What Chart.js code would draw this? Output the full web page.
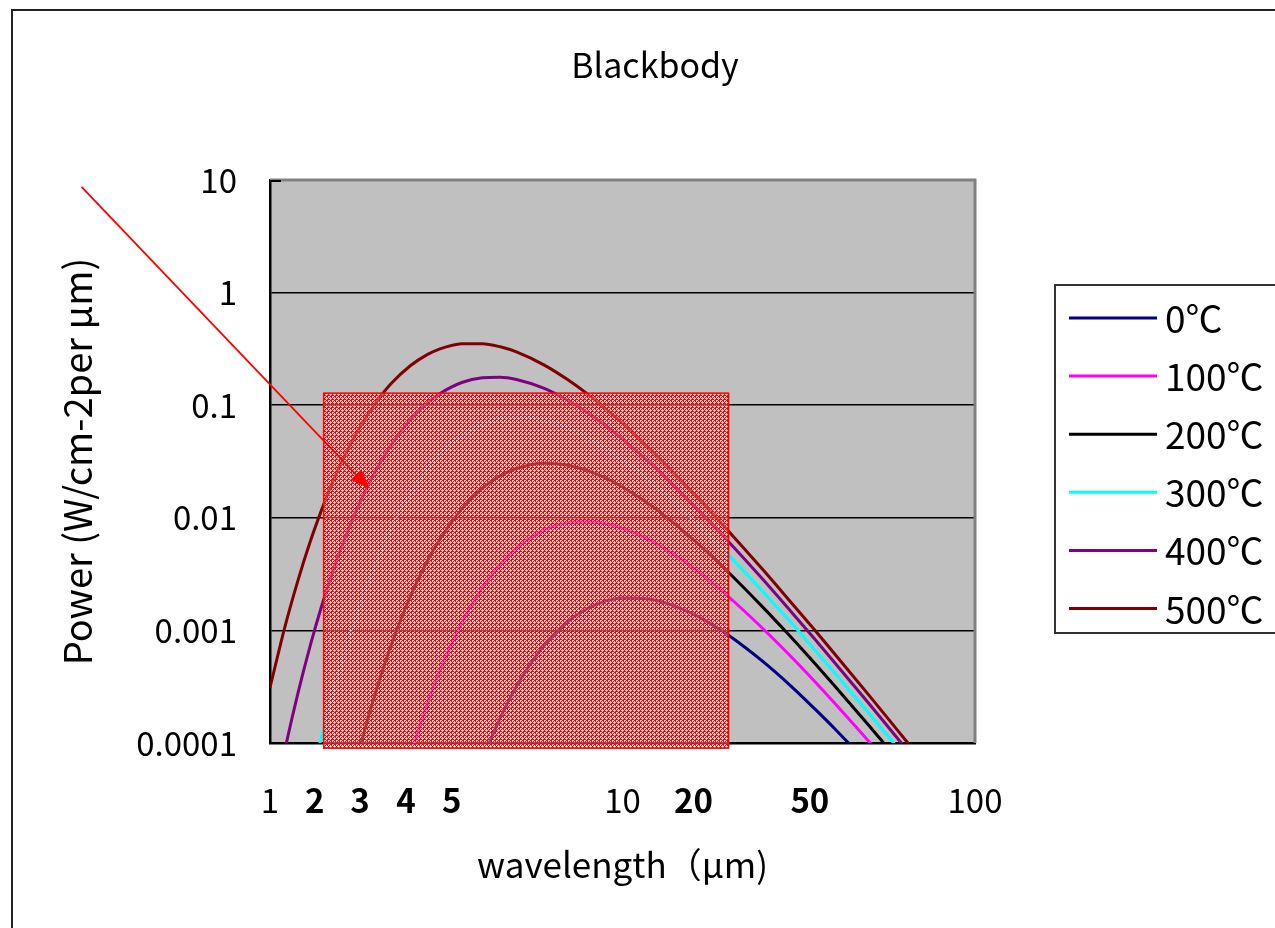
<!DOCTYPE html>
<html lang="ja">
<head>
<meta charset="UTF-8" />
<title>Blackbody</title>
<script src="https://cdn.jsdelivr.net/npm/chart.js"></script>
<style>
  html, body { margin: 0; padding: 0; background: #fff; }
  #wrap { width: 1275px; height: 928px; }
</style>
</head>
<body>
<div id="wrap"><canvas id="bbChart" width="1275" height="928"></canvas></div>
<script>
// wavelength (um) and power (W/cm2 per um)
const wavelengths = [1, 1.1, 1.2, 1.3, 1.4, 1.5, 1.6, 1.8, 2, 2.2, 2.5, 2.8, 3, 3.5, 4, 4.5, 5, 6, 7, 8, 9, 10, 12, 14, 16, 18, 20, 25, 30, 35, 40, 50, 60, 70, 80];

const power0 = [null, null, null, null, null, null, null, null, null, null, null, null, null,
  2.07e-5, 6.98e-5, 1.67e-4, 3.18e-4, 7.41e-4, 1.20e-3, 1.58e-3, 1.83e-3, 1.94e-3, 1.89e-3, 1.65e-3,
  1.38e-3, 1.12e-3, 9.05e-4, 5.30e-4, 3.22e-4, 2.03e-4, 1.34e-4, 6.41e-5, 3.42e-5, 1.98e-5, 1.23e-5];
const power100 = [null, null, null, null, null, null, null, null, null,
  1.78e-5, 7.68e-5, 2.27e-4, 4.03e-4, 1.17e-3, 2.38e-3, 3.85e-3, 5.36e-3, 7.80e-3, 9.06e-3, 9.29e-3,
  8.86e-3, 8.09e-3, 6.30e-3, 4.73e-3, 3.52e-3, 2.63e-3, 1.99e-3, 1.04e-3, 5.89e-4, 3.55e-4, 2.25e-4,
  1.03e-4, 5.34e-5, 3.03e-5, 1.84e-5];
const power200 = [null, null, null, null, null, null,
  1.99e-5, 9.12e-5, 2.92e-4, 7.21e-4, 2.00e-3, 4.18e-3, 6.10e-3, 0.0120, 0.0183, 0.0236, 0.0274,
  0.0305, 0.0293, 0.0261, 0.0224, 0.0188, 0.0130, 8.95e-3, 6.27e-3, 4.48e-3, 3.27e-3, 1.61e-3,
  8.77e-4, 5.15e-4, 3.21e-4, 1.43e-4, 7.29e-5, 4.09e-5, 2.47e-5];
const power300 = [null, null,
  1.24e-5, 4.14e-5, 1.14e-4, 2.66e-4, 5.48e-4, 1.74e-3, 4.14e-3, 8.04e-3, 0.0167, 0.0278, 0.0358,
  0.0547, 0.0689, 0.0769, 0.0795, 0.0745, 0.0634, 0.0518, 0.0415, 0.0331, 0.0212, 0.0139, 9.39e-3,
  6.53e-3, 4.66e-3, 2.22e-3, 1.18e-3, 6.79e-4, 4.19e-4, 1.84e-4, 9.26e-5, 5.16e-5, 3.10e-5];
const power400 = [1.95e-5, 8.46e-5, 2.76e-4, 7.29e-4, 1.63e-3, 3.19e-3, 5.63e-3, 0.0138, 0.0267,
  0.0438, 0.0742, 0.105, 0.124, 0.159, 0.175, 0.177, 0.169, 0.141, 0.110, 0.0848, 0.0650, 0.0500,
  0.0305, 0.0193, 0.0127, 8.69e-3, 6.12e-3, 2.84e-3, 1.48e-3, 8.46e-4, 5.17e-4, 2.24e-4, 1.12e-4,
  6.24e-5, 3.73e-5];
const power500 = [3.10e-4, 1.05e-3, 2.77e-3, 6.12e-3, 0.0117, 0.0202, 0.0317, 0.0641, 0.106, 0.154,
  0.224, 0.283, 0.312, 0.351, 0.352, 0.330, 0.297, 0.227, 0.168, 0.124, 0.0918, 0.0689, 0.0405,
  0.0250, 0.0162, 0.0109, 7.61e-3, 3.47e-3, 1.79e-3, 1.02e-3, 6.17e-4, 2.66e-4, 1.32e-4, 7.31e-5,
  4.36e-5];

const seriesLabels = ['0℃', '100℃', '200℃', '300℃', '400℃', '500℃'];
const seriesValues = [power0, power100, power200, power300, power400, power500];
const seriesColors = ['#000080', '#ff00ff', '#000000', '#00ffff', '#800080', '#800000'];

const yTicks = [0.0001, 0.001, 0.01, 0.1, 1, 10];
const yTickLabels = ['0.0001', '0.001', '0.01', '0.1', '1', '10'];
const xTicks = [1, 10, 100];
const xTickLabels = ['1', '10', '100'];
// bold labels pasted on top of the axis in the original
const extraXLabels = ['2', '3', '4', '5', '20', '50'];
const extraXLabelAt = [1.34, 1.80, 2.43, 3.28, 15.9, 34.0];

// red hatched box and arrow, in axis units
const boxX = [1.42, 20];
const boxY = [9.0e-5, 0.128];
const arrowFrom = [0.292, 8.67];
const arrowTo = [1.92, 0.0180];

const chartTitle = 'Blackbody';
const FONT = "'Noto Sans CJK JP', 'Noto Sans', sans-serif";
Chart.defaults.font.family = FONT;
Chart.defaults.color = '#000';

function makeHatch(ctx) {
  const c = document.createElement('canvas');
  c.width = 4; c.height = 4;
  const g = c.getContext('2d');
  g.fillStyle = '#ff0000';
  g.fillRect(0, 0, 4, 4);
  g.fillStyle = 'rgba(255,255,255,0.4)';
  [[2, 1], [1, 2], [2, 2], [3, 2], [2, 3], [0, 0], [1, 0], [0, 1]].forEach(([x, y]) => {
    g.clearRect(x, y, 1, 1);
    g.fillRect(x, y, 1, 1);
  });
  return ctx.createPattern(c, 'repeat');
}

const framePlugin = {
  id: 'frame',
  beforeDraw(chart) {
    const { ctx, chartArea: a } = chart;
    ctx.save();
    ctx.fillStyle = '#fff';
    ctx.fillRect(0, 0, chart.width, chart.height);
    ctx.strokeStyle = '#222';
    ctx.lineWidth = 2;
    ctx.strokeRect(12, 10, 1400, 1000);
    ctx.fillStyle = '#c0c0c0';
    ctx.fillRect(a.left, a.top, a.right - a.left, a.bottom - a.top);
    // title sits over the middle of the whole sheet, not the plot
    ctx.fillStyle = '#000';
    ctx.font = '34px ' + FONT;
    ctx.textAlign = 'center';
    ctx.textBaseline = 'middle';
    ctx.fillText(chartTitle, 655, 65);
    ctx.restore();
  },
  afterDatasetsDraw(chart) {
    const { ctx, chartArea: a } = chart;
    ctx.save();
    ctx.strokeStyle = '#808080';
    ctx.lineWidth = 3;
    ctx.beginPath();
    ctx.moveTo(a.left, a.top);
    ctx.lineTo(a.right, a.top);
    ctx.lineTo(a.right, a.bottom);
    ctx.stroke();
    // small inside tick at the top of the value axis
    ctx.strokeStyle = '#000';
    ctx.lineWidth = 2;
    ctx.beginPath();
    ctx.moveTo(a.left, a.top + 1);
    ctx.lineTo(a.left + 11, a.top + 1);
    ctx.stroke();
    ctx.restore();
  }
};

const notesPlugin = {
  id: 'notes',
  afterDraw(chart) {
    const { ctx } = chart;
    const xs = chart.scales.x, ys = chart.scales.y;
    ctx.save();

    // hatched box
    const bx0 = xs.getPixelForValue(boxX[0]), bx1 = xs.getPixelForValue(boxX[1]);
    const by0 = ys.getPixelForValue(boxY[1]), by1 = ys.getPixelForValue(boxY[0]);
    ctx.fillStyle = makeHatch(ctx);
    ctx.fillRect(bx0, by0, bx1 - bx0, by1 - by0);
    ctx.strokeStyle = '#ff0000';
    ctx.lineWidth = 1.5;
    ctx.strokeRect(bx0, by0, bx1 - bx0, by1 - by0);

    // arrow
    const ax0 = xs.getPixelForValue(arrowFrom[0]), ay0 = ys.getPixelForValue(arrowFrom[1]);
    const ax1 = xs.getPixelForValue(arrowTo[0]), ay1 = ys.getPixelForValue(arrowTo[1]);
    const ang = Math.atan2(ay1 - ay0, ax1 - ax0);
    const hl = 20, hw = 7.5;
    ctx.strokeStyle = '#ff0000';
    ctx.fillStyle = '#ff0000';
    ctx.lineWidth = 1.8;
    ctx.beginPath();
    ctx.moveTo(ax0, ay0);
    ctx.lineTo(ax1 - hl * Math.cos(ang), ay1 - hl * Math.sin(ang));
    ctx.stroke();
    ctx.beginPath();
    ctx.moveTo(ax1, ay1);
    ctx.lineTo(ax1 - hl * Math.cos(ang) + hw * Math.sin(ang), ay1 - hl * Math.sin(ang) - hw * Math.cos(ang));
    ctx.lineTo(ax1 - hl * Math.cos(ang) - hw * Math.sin(ang), ay1 - hl * Math.sin(ang) + hw * Math.cos(ang));
    ctx.closePath();
    ctx.fill();

    // bold axis labels
    const tf = xs.options.ticks;
    const ly = xs.top + tf.padding + tf.font.size * 1.2 / 2;
    ctx.font = 'bold ' + tf.font.size + 'px ' + FONT;
    ctx.fillStyle = '#000';
    ctx.textAlign = 'center';
    ctx.textBaseline = 'middle';
    extraXLabels.forEach((t, i) => ctx.fillText(t, xs.getPixelForValue(extraXLabelAt[i]), ly));

    // legend
    const lg = { left: 1055, top: 285, bottom: 633, row0: 318, step: 58.1 };
    ctx.strokeStyle = '#333';
    ctx.lineWidth = 2;
    ctx.strokeRect(lg.left, lg.top, 400, lg.bottom - lg.top);
    ctx.font = '37px ' + FONT;
    ctx.textAlign = 'left';
    chart.data.datasets.forEach((ds, i) => {
      const y = lg.row0 + i * lg.step;
      ctx.strokeStyle = ds.borderColor;
      ctx.lineWidth = 3;
      ctx.beginPath();
      ctx.moveTo(1069, y);
      ctx.lineTo(1157, y);
      ctx.stroke();
      ctx.fillStyle = '#000';
      ctx.fillText(ds.label, 1165, y + 1);
    });
    ctx.restore();
  }
};

new Chart(document.getElementById('bbChart'), {
  type: 'line',
  data: {
    datasets: seriesLabels.map((label, i) => ({
      label: label,
      data: wavelengths.map((w, j) => ({ x: w, y: seriesValues[i][j] })),
      borderColor: seriesColors[i],
      backgroundColor: seriesColors[i],
      borderWidth: 3,
      pointRadius: 0,
      cubicInterpolationMode: 'monotone',
      fill: false,
      order: 6 - i
    }))
  },
  options: {
    responsive: false,
    animation: false,
    devicePixelRatio: 1,
    layout: { padding: { left: 0, right: 300, top: 180, bottom: 0 } },
    plugins: {
      legend: { display: false },
      tooltip: { enabled: false },
      title: { display: false }
    },
    scales: {
      x: {
        type: 'logarithmic',
        min: 1,
        max: 100,
        afterFit: s => { s.height = 185; },
        afterBuildTicks: s => { s.ticks = xTicks.map(v => ({ value: v })); },
        grid: { display: false, drawTicks: false },
        border: { color: '#000', width: 2.5 },
        ticks: {
          autoSkip: false,
          maxRotation: 0,
          padding: 38,
          font: { size: 33 },
          callback: v => xTickLabels[xTicks.indexOf(v)]
        },
        title: {
          display: true,
          text: 'wavelength（μm)',
          font: { size: 35 },
          padding: { top: 0, bottom: 42 }
        }
      },
      y: {
        type: 'logarithmic',
        min: 0.0001,
        max: 10,
        afterFit: s => { s.width = 270; },
        afterBuildTicks: s => { s.ticks = yTicks.map(v => ({ value: v })); },
        grid: {
          drawTicks: false,
          color: c => (c.tick && c.tick.value === 10 ? 'rgba(0,0,0,0)' : '#000'),
          lineWidth: 1.5
        },
        border: { color: '#000', width: 2.5 },
        ticks: {
          padding: 33,
          font: { size: 33 },
          callback: v => yTickLabels[yTicks.indexOf(v)]
        },
        title: {
          display: true,
          text: 'Power (W/cm-2per μm)',
          font: { size: 38 },
          padding: { top: 55, bottom: 0 }
        }
      }
    }
  },
  plugins: [framePlugin, notesPlugin]
});
</script>
</body>
</html>
